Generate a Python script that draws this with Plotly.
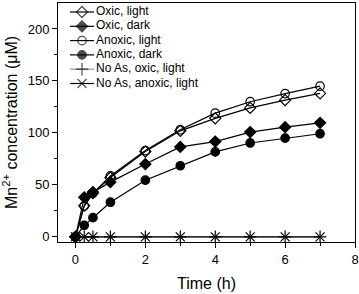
import plotly.graph_objects as go

time_h = [0, 0.25, 0.5, 1, 2, 3, 4, 5, 6, 7]
oxic_light = [0, 30, 42, 57, 82, 102, 114, 124, 131.5, 138]
oxic_dark = [0, 38, 43, 52.6, 70, 86.5, 91.6, 100.8, 105.5, 109.7]
anoxic_light = [0, 29.5, 41.8, 58.6, 83, 103, 119, 130, 137.8, 145]
anoxic_dark = [0, 11, 18.4, 33.3, 54.5, 68.4, 81.7, 90.3, 95, 99.2]
noas_oxic_light = [0, 0, 0, 0, 0, 0, 0, 0, 0, 0]
noas_anoxic_light = [0, 0, 0, 0, 0, 0, 0, 0, 0, 0]

x_ticks = [0, 2, 4, 6, 8]
y_ticks = [0, 50, 100, 150, 200]

FONT = "Arial, Liberation Sans, Helvetica, sans-serif"

series = [
    ("Oxic, light", oxic_light, "diamond-open", "black", 8.5),
    ("Oxic, dark", oxic_dark, "diamond", "black", 8.5),
    ("Anoxic, light", anoxic_light, "circle-open", "black", 8.5),
    ("Anoxic, dark", anoxic_dark, "circle", "black", 8.5),
    ("No As, oxic, light", noas_oxic_light, "cross-thin-open", "#9a9a9a", 9),
    ("No As, anoxic, light", noas_anoxic_light, "x-thin-open", "black", 9),
]

fig = go.Figure()
for name, ys, sym, lc, sz in series:
    fig.add_trace(go.Scatter(
        x=time_h, y=ys, name=name, mode="lines+markers", showlegend=False,
        line=dict(color=lc, width=1.2),
        marker=dict(symbol=sym, size=sz, color="black",
                    line=dict(color="black", width=1.2)),
    ))

# Legend drawn on an overlay axis whose units are pixels of the plot area
PW, PH = 297, 239
row0, rowgap = 9, 14.3
for i, (name, ys, sym, lc, sz) in enumerate(series):
    yy = row0 + rowgap * i
    fig.add_trace(go.Scatter(
        x=[12, 24, 36], y=[yy, yy, yy], xaxis="x2", yaxis="y2",
        mode="lines+markers", showlegend=False, hoverinfo="skip",
        line=dict(color=lc, width=1.2),
        marker=dict(symbol=sym, size=[0, sz, 0], color="black",
                    line=dict(color="black", width=1.2)),
    ))
    fig.add_trace(go.Scatter(
        x=[38], y=[yy], xaxis="x2", yaxis="y2", mode="text",
        text=[name], textposition="middle right", showlegend=False,
        hoverinfo="skip", textfont=dict(size=12, family=FONT, color="black"),
    ))

fig.update_layout(
    width=359, height=294,
    margin=dict(l=58, r=4, t=3, b=52),
    paper_bgcolor="white", plot_bgcolor="white",
    font=dict(family=FONT, color="black", size=13),
    showlegend=False,
    xaxis2=dict(overlaying="x", range=[0, PW], visible=False, domain=[0, 1]),
    yaxis2=dict(overlaying="y", range=[PH, 0], visible=False, domain=[0, 1]),
    xaxis=dict(
        range=[-0.5, 8], tickvals=x_ticks, automargin=False,
        showline=True, linecolor="black", linewidth=1, mirror=True,
        ticks="outside", ticklen=5, tickcolor="black",
        minor=dict(tickvals=[1, 3, 5, 7], ticks="outside", ticklen=3, tickcolor="black"),
        showgrid=False, zeroline=False,
        title=dict(text="Time (h)", font=dict(size=16), standoff=12),
    ),
    yaxis=dict(
        range=[-5, 225], tickvals=y_ticks, automargin=False,
        showline=True, linecolor="black", linewidth=1, mirror=True,
        ticks="outside", ticklen=5, tickcolor="black",
        minor=dict(tickvals=[25, 75, 125, 175], ticks="outside", ticklen=3, tickcolor="black"),
        showgrid=False, zeroline=False,
        title=dict(text="Mn<sup>2+</sup> concentration (μM)", font=dict(size=16), standoff=6),
    ),
)
fig.write_html("out.html", config={"displayModeBar": False},
               post_script="document.body.style.margin='0';")
